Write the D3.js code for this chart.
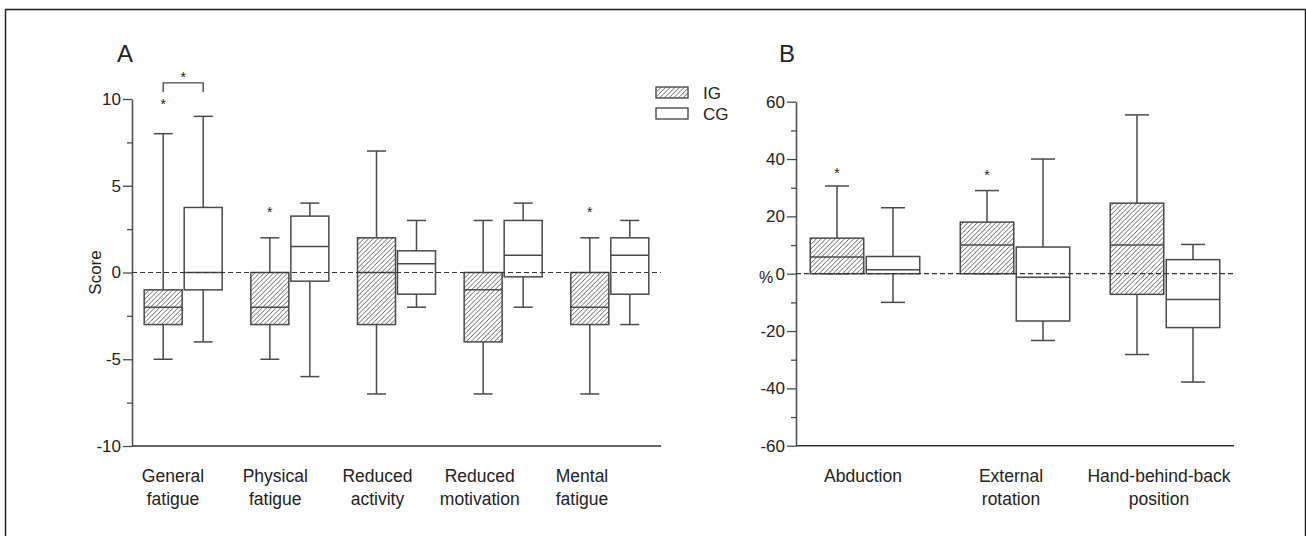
<!DOCTYPE html>
<html lang="en">
<head>
    <meta charset="UTF-8">
    <title>Fatigue and shoulder mobility box plots</title>
    <style>
        body {
            margin: 0;
            background-color: #fff;
        }
        svg text {
            font-family: "Liberation Sans", Arial, sans-serif;
            fill: #222;
        }
    </style>
    <script src="https://d3js.org/d3.v7.min.js"></script>
</head>
<body>
    <svg id="chart" width="1306" height="536"></svg>
    <script>
        // Panel A data: [min, q1, median, q3, max] per category
        const catA = ["General fatigue", "Physical fatigue", "Reduced activity", "Reduced motivation", "Mental fatigue"];
        const labelA = [["General", "fatigue"], ["Physical", "fatigue"], ["Reduced", "activity"], ["Reduced", "motivation"], ["Mental", "fatigue"]];
        const igA = [[-5, -3, -2, -1, 8], [-5, -3, -2, 0, 2], [-7, -3, 0, 2, 7], [-7, -4, -1, 0, 3], [-7, -3, -2, 0, 2]];
        const cgA = [[-4, -1, 0, 3.75, 9], [-6, -0.5, 1.5, 3.25, 4], [-2, -1.25, 0.5, 1.25, 3], [-2, -0.25, 1, 3, 4], [-3, -1.25, 1, 2, 3]];
        const starsA = [[0, 9.8], [1, 3.6], [4, 3.6]]; // [category index, value] above IG
        const ticksA = [-10, -5, 0, 5, 10];
        const minorA = [-7.5, -2.5, 2.5, 7.5];

        // Panel B data
        const catB = ["Abduction", "External rotation", "Hand-behind-back position"];
        const labelB = [["Abduction"], ["External", "rotation"], ["Hand-behind-back", "position"]];
        const igB = [[0, 0, 5.8, 12.4, 30.6], [0, 0, 10, 18, 29], [-28.2, -7.2, 10, 24.6, 55.4]];
        const cgB = [[-10, 0, 1.4, 6, 23], [-23.3, -16.5, -1.2, 9.3, 40], [-37.8, -18.8, -9, 4.9, 10.2]];
        const starsB = [[0, 36], [1, 35]];
        const ticksB = [-60, -40, -20, 0, 20, 40, 60];
        const minorB = [-50, -30, -10, 10, 30, 50];

        const svg = d3.select("#chart");
        const lineColor = "#4a4a4a";

        // figure frame
        svg.append("path")
            .attr("d", "M5.5,536 V9.5 H1305.5 V536")
            .attr("fill", "none")
            .attr("stroke", "#222")
            .attr("stroke-width", 1.5);

        // hatch pattern for IG
        const pat = svg.append("defs").append("pattern")
            .attr("id", "hatch")
            .attr("patternUnits", "userSpaceOnUse")
            .attr("width", 3.3)
            .attr("height", 3.3)
            .attr("patternTransform", "rotate(45)");
        pat.append("rect").attr("width", 3.3).attr("height", 3.3).attr("fill", "#fff");
        pat.append("line")
            .attr("x1", 0).attr("y1", 0).attr("x2", 0).attr("y2", 3.3)
            .attr("stroke", "#3a3a3a").attr("stroke-width", 1.1);

        function drawPanel(opt) {
            const g = svg.append("g");
            const x = opt.x, y = opt.y;
            const x0 = x.range()[0], x1 = x.range()[1];

            // y axis (plain hyphen minus like the original)
            const axis = g.append("g")
                .attr("transform", `translate(${x0},0)`)
                .call(d3.axisLeft(y).tickValues(opt.ticks).tickFormat(d => String(d))
                    .tickSize(9).tickPadding(2).tickSizeOuter(0));
            axis.select(".domain").attr("stroke", lineColor).attr("stroke-width", 1.5);
            axis.selectAll(".tick line").attr("stroke", lineColor).attr("stroke-width", 1.3);
            axis.selectAll(".tick text")
                .attr("font-size", 17)
                .attr("fill", "#333")
                .style("font-family", "'Liberation Sans', Arial, sans-serif");
            const minor = g.append("g")
                .attr("transform", `translate(${x0},0)`)
                .call(d3.axisLeft(y).tickValues(opt.minor).tickSize(5).tickFormat(""));
            minor.select(".domain").remove();
            minor.selectAll(".tick line").attr("stroke", lineColor).attr("stroke-width", 1.3);

            // x axis baseline
            g.append("line")
                .attr("x1", x0).attr("x2", x1)
                .attr("y1", y.range()[0]).attr("y2", y.range()[0])
                .attr("stroke", "#333").attr("stroke-width", 1.6);

            // boxes
            const series = [
                { data: opt.ig, off: -opt.off, fill: "url(#hatch)" },
                { data: opt.cg, off: opt.off, fill: "#fff" }
            ];
            series.forEach(s => {
                s.data.forEach((d, i) => {
                    const cx = x(opt.cats[i]) + s.off;
                    const w = opt.boxW, cw = opt.capW;
                    const bg = g.append("g")
                        .attr("stroke", lineColor)
                        .attr("stroke-width", 1.5);
                    bg.append("line").attr("x1", cx).attr("x2", cx).attr("y1", y(d[4])).attr("y2", y(d[3]));
                    bg.append("line").attr("x1", cx).attr("x2", cx).attr("y1", y(d[1])).attr("y2", y(d[0]));
                    bg.append("line").attr("x1", cx - cw / 2).attr("x2", cx + cw / 2).attr("y1", y(d[4])).attr("y2", y(d[4]));
                    bg.append("line").attr("x1", cx - cw / 2).attr("x2", cx + cw / 2).attr("y1", y(d[0])).attr("y2", y(d[0]));
                    bg.append("rect")
                        .attr("x", cx - w / 2).attr("width", w)
                        .attr("y", y(d[3])).attr("height", Math.max(0, y(d[1]) - y(d[3])))
                        .attr("fill", s.fill);
                    bg.append("line").attr("x1", cx - w / 2).attr("x2", cx + w / 2).attr("y1", y(d[2])).attr("y2", y(d[2]));
                });
            });

            // zero reference line
            g.append("line")
                .attr("x1", x0).attr("x2", x1)
                .attr("y1", y(0)).attr("y2", y(0))
                .attr("stroke", "#333").attr("stroke-width", 1.2)
                .attr("stroke-dasharray", "5,3");

            // significance stars
            opt.stars.forEach(s => {
                g.append("text")
                    .attr("x", x(opt.cats[s[0]]) - opt.off)
                    .attr("y", y(s[1]) + 7)
                    .attr("text-anchor", "middle")
                    .attr("font-size", 14)
                    .attr("fill", "#444")
                    .text("*");
            });

            // category labels
            opt.labels.forEach((lines, i) => {
                const t = g.append("text")
                    .attr("text-anchor", "middle")
                    .attr("font-size", 17.5)
                    .attr("fill", "#333");
                lines.forEach((ln, j) => {
                    t.append("tspan")
                        .attr("x", opt.lx(opt.cats[i]))
                        .attr("y", 482 + j * 23)
                        .text(ln);
                });
            });

            // panel letter
            g.append("text")
                .attr("x", opt.letterX).attr("y", 62)
                .attr("font-size", 24)
                .attr("fill", "#111")
                .text(opt.letter);
            return g;
        }

        // Panel A
        const yA = d3.scaleLinear().domain([-10, 10]).range([446, 99]);
        const xA = d3.scalePoint().domain(catA).range([132, 661]).padding(0.48);
        const lxA = d3.scalePoint().domain(catA).range([173, 582]);
        const gA = drawPanel({
            x: xA, y: yA, lx: lxA, cats: catA, labels: labelA, ig: igA, cg: cgA,
            stars: starsA, ticks: ticksA, minor: minorA, off: 20, boxW: 38, capW: 19,
            letter: "A", letterX: 117
        });

        // bracket over General fatigue
        const bx1 = xA(catA[0]) - 20, bx2 = xA(catA[0]) + 20;
        gA.append("path")
            .attr("d", `M${bx1},${yA(10.4)} V${yA(10.93)} H${bx2} V${yA(10.4)}`)
            .attr("fill", "none")
            .attr("stroke", lineColor)
            .attr("stroke-width", 1.4);
        gA.append("text")
            .attr("x", (bx1 + bx2) / 2)
            .attr("y", yA(11.4) + 7)
            .attr("text-anchor", "middle")
            .attr("font-size", 14)
            .attr("fill", "#444")
            .text("*");

        gA.append("text")
            .attr("transform", `translate(101,${yA(0)}) rotate(-90)`)
            .attr("text-anchor", "middle")
            .attr("font-size", 17)
            .attr("fill", "#333")
            .text("Score");

        // legend
        const legend = svg.append("g").attr("transform", "translate(656,87)");
        [["IG", "url(#hatch)"], ["CG", "#fff"]].forEach((d, i) => {
            legend.append("rect")
                .attr("x", 0).attr("y", i * 21)
                .attr("width", 32).attr("height", 11)
                .attr("fill", d[1])
                .attr("stroke", lineColor)
                .attr("stroke-width", 1.4);
            legend.append("text")
                .attr("x", 47).attr("y", i * 21 + 12)
                .attr("font-size", 17)
                .attr("fill", "#333")
                .text(d[0]);
        });

        // Panel B
        const yB = d3.scaleLinear().domain([-60, 60]).range([445.7, 101.7]);
        const xB = d3.scalePoint().domain(catB).range([796, 1234]).padding(0.46);
        const lxB = d3.scalePoint().domain(catB).range([863, 1159]);
        const gB = drawPanel({
            x: xB, y: yB, lx: lxB, cats: catB, labels: labelB, ig: igB, cg: cgB,
            stars: starsB, ticks: ticksB, minor: minorB, off: 28, boxW: 53.5, capW: 24,
            letter: "B", letterX: 779
        });
        gB.append("text")
            .attr("x", 766).attr("y", yB(0) + 9)
            .attr("text-anchor", "middle")
            .attr("font-size", 16)
            .attr("fill", "#333")
            .text("%");
    </script>
</body>
</html>
